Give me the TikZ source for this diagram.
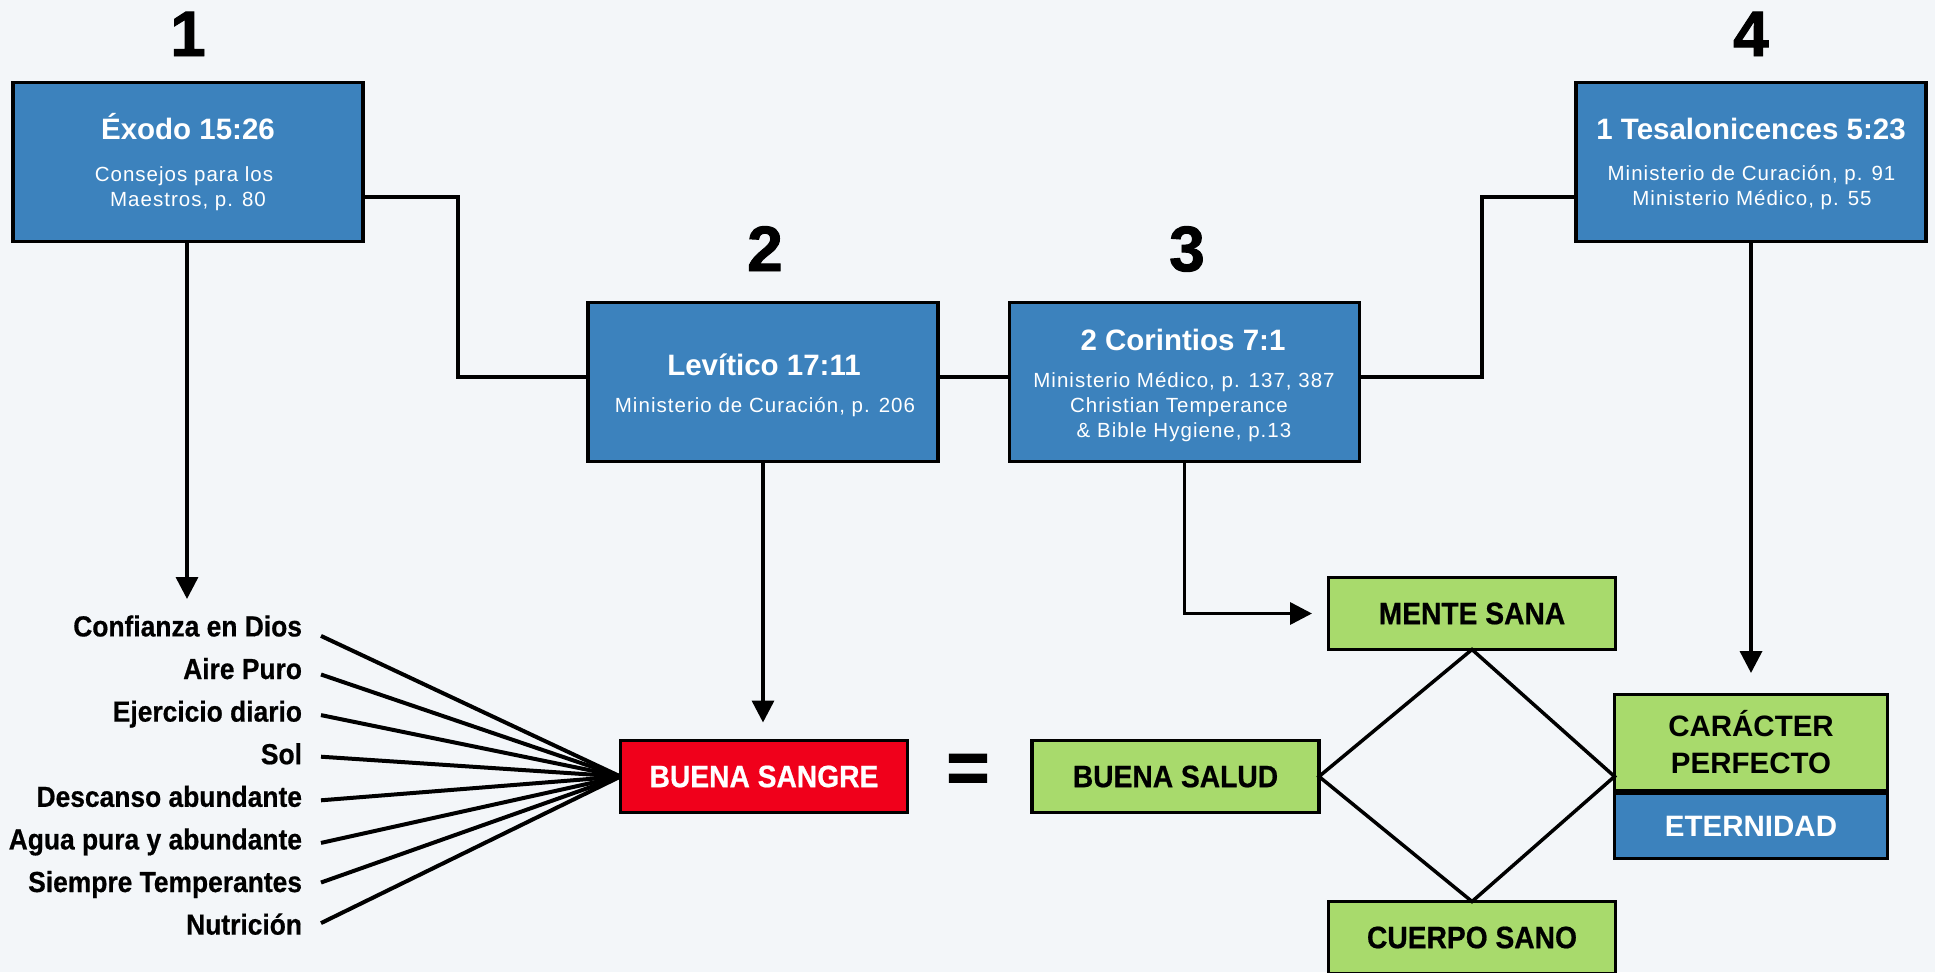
\documentclass[tikz,border=0pt]{standalone}
\usepackage{fontspec}
\setmainfont{Liberation Sans}
\newfontfamily\condb{Liberation Sans Bold}[FakeStretch=0.91, FakeBold=0.6]
\newfontfamily\numf{Liberation Sans Bold}[FakeBold=1.5]
\newfontfamily\subf{Liberation Sans}[LetterSpace=5]
\usetikzlibrary{arrows.meta}
\definecolor{bg}{HTML}{F3F6F9}
\definecolor{boxblue}{HTML}{3C82BD}
\definecolor{boxgreen}{HTML}{A8DA6C}
\definecolor{boxred}{HTML}{F0001B}
\begin{document}
\begin{tikzpicture}[x=1pt,y=-1pt,
  boxbase/.style={draw=black, line width=3.3pt, inner sep=0pt, outer sep=0pt},
  bluebox/.style={boxbase, fill=boxblue, minimum width=350pt, minimum height=159pt},
  greenbox/.style={boxbase, fill=boxgreen, minimum width=287pt, minimum height=72pt,
     font=\condb\fontsize{31}{36}\selectfont},
  redbox/.style={boxbase, fill=boxred, text=white, minimum width=287pt, minimum height=72pt,
     font=\condb\fontsize{31}{36}\selectfont},
  txt/.style={inner sep=0pt, outer sep=0pt, anchor=base},
  num/.style={txt, font=\numf\fontsize{64}{70}\selectfont},
  ttl/.style={txt, text=white, font=\bfseries\fontsize{29.5}{34}\selectfont},
  sub/.style={txt, text=white, font=\subf\fontsize{20.5}{25}\selectfont},
  lst/.style={inner sep=0pt, outer sep=0pt, anchor=base east, text height=21pt, text depth=0pt,
     font=\condb\fontsize{29}{34}\selectfont},
  conn/.style={line width=3.5pt},
  arr/.style={line width=3.5pt, -{Triangle[width=22pt,length=22pt]}},
  fan/.style={line width=4pt}
]
\useasboundingbox (0,0) rectangle (1935,972);
\fill[bg] (0,0) rectangle (1935,972);
\clip (0,0) rectangle (1935,972);

% numbers
\node[num] (n1) at (188,56) {1};
\node[num] (n2) at (765,271) {2};
\node[num] (n3) at (1187,271) {3};
\node[num] (n4) at (1751,56) {4};

% blue boxes
\node[bluebox] (b1) at (188,162) {};
\node[bluebox] (b2) at (763,382) {};
\node[bluebox] (b3) at (1184.5,382) {};
\node[bluebox] (b4) at (1751,162) {};

\node[ttl] (t1) at (188,139) {Éxodo 15:26};
\node[ttl] (t2) at (764,375) {Levítico 17:11};
\node[ttl] (t3) at (1183,350) {2 Corintios 7:1};
\node[ttl] (t4) at (1751,139) {1 Tesalonicences 5:23};

\node[sub] (s1a) at (184,181) {Consejos para los};
\node[sub] (s1b) at (188,206) {Maestros, p. 80};
\node[sub] (s2a) at (765,412) {Ministerio de Curación, p. 206};
\node[sub] (s3a) at (1184,387) {Ministerio Médico, p. 137, 387};
\node[sub] (s3b) at (1179,412) {Christian Temperance};
\node[sub] (s3c) at (1184,437) {\& Bible Hygiene, p.13};
\node[sub] (s4a) at (1751.5,180) {Ministerio de Curación, p. 91};
\node[sub] (s4b) at (1752,205) {Ministerio Médico, p. 55};

% bottom boxes
\node[redbox] (bs) at (764,776.5) {BUENA SANGRE};
\node[greenbox] (bsal) at (1175.5,776.5) {BUENA SALUD};
\node[greenbox] (ms) at (1472,613.5) {MENTE SANA};
\node[greenbox] (cs) at (1472,937.5) {CUERPO SANO};
\node[greenbox, minimum width=273pt, minimum height=96pt, align=center,
      font=\bfseries\fontsize{29.5}{37}\selectfont] (car) at (1751,742.5) {CARÁCTER\\PERFECTO};
\node[boxbase, fill=boxblue, text=white, minimum width=273pt, minimum height=65pt,
      font=\bfseries\fontsize{29.5}{34}\selectfont] (ete) at (1751,826) {ETERNIDAD};

\node[inner sep=0pt, outer sep=0pt, font=\numf\fontsize{74}{80}\selectfont] (eq) at (968,773.5) {=};

% list and fan lines
\foreach \t/\d [count=\i] in {Confianza en Dios/10, Aire Puro/6, Ejercicio diario/4, Sol/3,
    Descanso abundante/4, Agua pura y abundante/4, Siempre Temperantes/1, Nutrición/-1} {
  \node[lst] (li\i) at (302,{636.4+42.6*(\i-1)}) {\t};
  \draw[fan] ([xshift=19pt,yshift=-\d pt]li\i.east) -- (bs.west);
}

% connectors
\coordinate (c197) at (0,197);
\coordinate (c377) at (0,377);
\draw[conn] (b1.east |- c197) -- ++(95,0) |- (b2.west |- c377);
\draw[conn] (b2.east |- c377) -- (b3.west |- c377);
\draw[conn] (b3.east |- c377) -- ++(122.5,0) |- (b4.west |- c197);

\coordinate (tip1) at (187,599);
\draw[arr] (b1.south -| tip1) -- (tip1);
\draw[arr, shorten >=18pt] (b2.south) -- (b2.south |- bs.north);
\draw[arr, shorten >=16.5pt] (b3.south) |- (ms.west);
\draw[arr, shorten >=21.5pt] (b4.south) -- (b4.south |- car.north);

% diamond
\coordinate (dr) at (car.west |- bsal.east);
\draw[conn, line join=miter] (ms.south) -- (bsal.east) -- (cs.north) -- (dr) -- cycle;
\end{tikzpicture}
\end{document}
